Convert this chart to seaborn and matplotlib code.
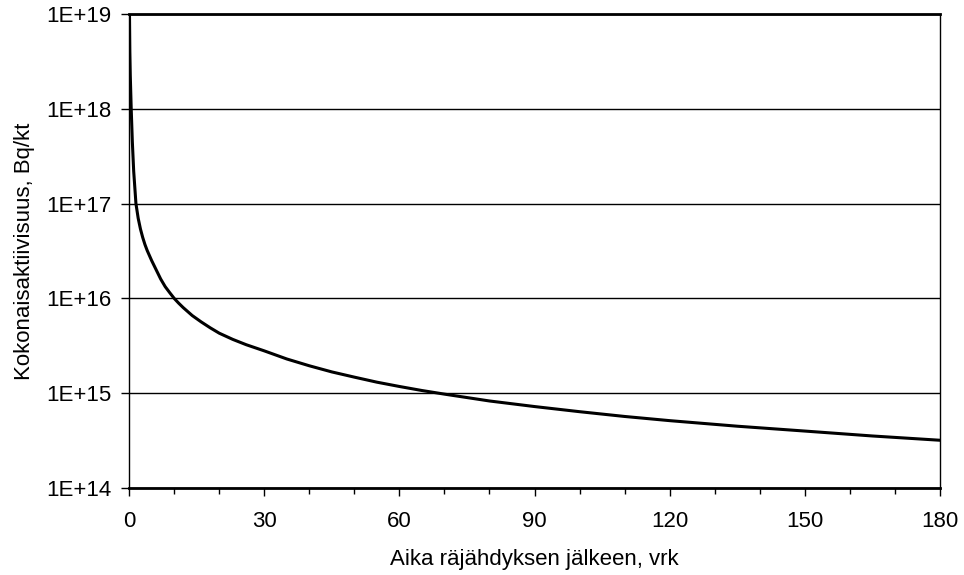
import matplotlib
matplotlib.use("Agg")
import matplotlib.pyplot as plt
import matplotlib.ticker as mticker
import numpy as np
import pandas as pd
import seaborn as sns


# values (days after detonation, Bq/kt)
days = [0.07, 0.15, 0.25, 0.45, 0.7, 1.0, 1.5, 2, 2.5, 3, 3.5, 4, 5, 6, 7,
        8, 9, 10, 11, 12, 14, 16, 18, 20, 23, 26, 30, 35, 40, 45, 50, 55,
        60, 65, 70, 80, 90, 100, 110, 120, 135, 150, 165, 180]
activity = [1.0e19, 4.0e18, 2.2e18, 1.0e18, 4.5e17, 2.2e17, 1.0e17, 7.0e16,
            5.4e16, 4.4e16, 3.7e16, 3.2e16, 2.5e16, 2.0e16, 1.6e16, 1.33e16,
            1.15e16, 1.0e16, 8.9e15, 8.0e15, 6.6e15, 5.65e15, 4.9e15, 4.3e15,
            3.7e15, 3.25e15, 2.8e15, 2.3e15, 1.95e15, 1.68e15, 1.48e15,
            1.31e15, 1.18e15, 1.07e15, 9.8e14, 8.3e14, 7.25e14, 6.4e14,
            5.7e14, 5.15e14, 4.5e14, 4.0e14, 3.55e14, 3.2e14]

x_ticks = [0, 30, 60, 90, 120, 150, 180]
y_ticks = [1e14, 1e15, 1e16, 1e17, 1e18, 1e19]

df = pd.DataFrame({"t": days, "a": activity})

sns.set_theme(style="white")
plt.rcParams["font.family"] = ["Liberation Sans", "DejaVu Sans"]

fig, ax = plt.subplots(figsize=(9.64, 5.75), dpi=100)
fig.subplots_adjust(left=0.134, right=0.975, top=0.976, bottom=0.151)

sns.lineplot(data=df, x="t", y="a", color="black", linewidth=2.2, ax=ax)

ax.set_yscale("log")
ax.set_xlim(0, 180)
ax.set_ylim(1e14, 1e19)

ax.set_xticks(x_ticks)
ax.xaxis.set_minor_locator(mticker.MultipleLocator(10))
ax.set_yticks(y_ticks)
ax.yaxis.set_minor_locator(mticker.NullLocator())
ax.yaxis.set_major_formatter(
    mticker.FuncFormatter(lambda v, p: f"1E+{int(round(np.log10(v)))}"))

ax.tick_params(axis="both", which="major", direction="out", length=5.5,
               width=1, color="black", labelsize=16, labelcolor="black")
ax.tick_params(axis="x", which="minor", direction="out", length=4,
               width=1, color="black", bottom=True)
ax.tick_params(axis="x", which="major", pad=11, bottom=True)
ax.tick_params(axis="y", which="major", pad=7, left=True)

ax.yaxis.grid(True, color="black", linewidth=1)
ax.xaxis.grid(False)
for s in ax.spines.values():
    s.set_color("black")
    s.set_linewidth(1)
ax.spines["top"].set_linewidth(2)
ax.spines["bottom"].set_linewidth(2)

ax.set_xlabel("Aika räjähdyksen jälkeen, vrk", fontsize=16, labelpad=12,
              color="black")
ax.set_ylabel("Kokonaisaktiivisuus, Bq/kt", fontsize=16, labelpad=8,
              color="black")

fig.savefig("out.png", dpi=100)
